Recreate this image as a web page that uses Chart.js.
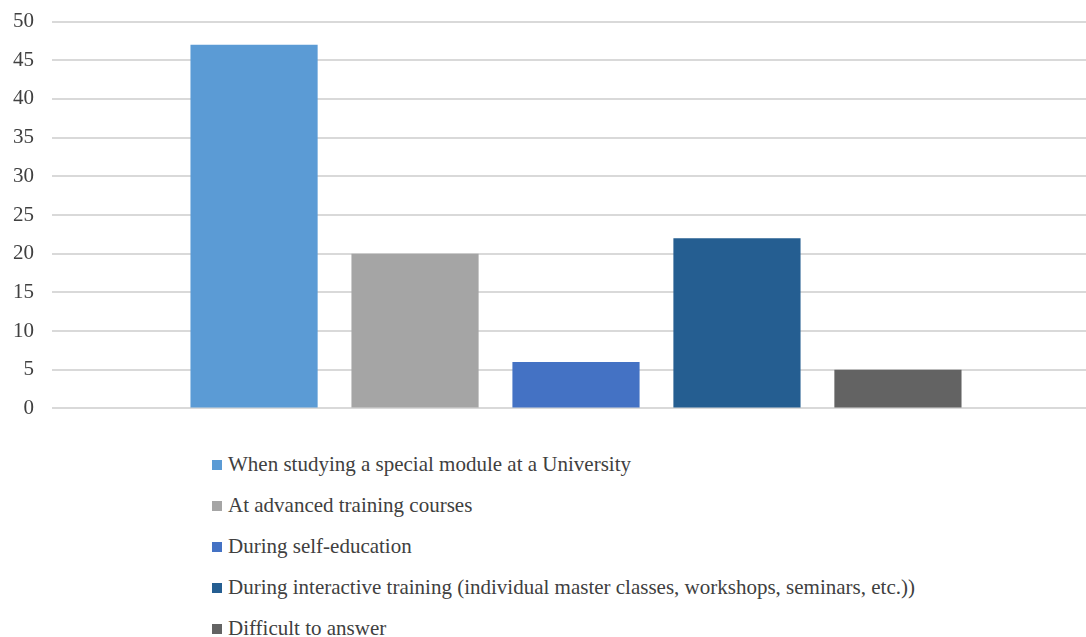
<!DOCTYPE html>
<html>
<head>
<meta charset="utf-8">
<script src="https://cdn.jsdelivr.net/npm/chart.js@4"></script>
<style>
    html, body { margin: 0; padding: 0; background: #fff; overflow: hidden; }
    #wrap { position: absolute; left: 0; top: -9px; width: 1100px; height: 448px; }
    #legend { margin: 0; padding: 0; list-style: none; position: absolute; left: 212px; top: 450px;
        font-family: 'Liberation Serif', serif; font-size: 21px; color: #404040; }
    #legend li { height: 41px; line-height: 28px; white-space: nowrap; }
    #legend span.box { display: inline-block; width: 10px; height: 10px; margin-right: 6px; vertical-align: 1px; }
</style>
</head>
<body>
<div id="wrap"><canvas id="chart" width="1100" height="448"></canvas></div>
<ul id="legend"></ul>
<script>
document.addEventListener('DOMContentLoaded', function() {
    const categories = [''];
    const seriesNames = [
        'When studying a special module at a University',
        'At advanced training courses',
        'During self-education',
        'During interactive training (individual master classes, workshops, seminars, etc.))',
        'Difficult to answer'
    ];
    const seriesValues = [47, 20, 6, 22, 5];
    const seriesColors = ['#5b9bd5', '#a5a5a5', '#4472c4', '#255e91', '#636363'];
    const yTicks = [0, 5, 10, 15, 20, 25, 30, 35, 40, 45, 50];

    const font = { family: "'Liberation Serif', serif", size: 21 };

    const ctx = document.getElementById('chart').getContext('2d');
    const chart = new Chart(ctx, {
        type: 'bar',
        data: {
            labels: categories,
            datasets: seriesNames.map((name, i) => ({
                label: name,
                data: [seriesValues[i]],
                backgroundColor: seriesColors[i],
                barPercentage: 0.79,
                categoryPercentage: 0.768
            }))
        },
        options: {
            responsive: false,
            animation: false,
            layout: { padding: { top: 6, bottom: 12, left: 0, right: 0 } },
            plugins: { legend: { display: false }, tooltip: { enabled: false } },
            scales: {
                x: { display: false },
                y: {
                    min: 0,
                    max: yTicks[yTicks.length - 1],
                    afterBuildTicks: scale => { scale.ticks = yTicks.map(v => ({ value: v })); },
                    afterFit: scale => { scale.width = 52; },
                    grid: { color: '#d9d9d9', lineWidth: 2, drawTicks: false },
                    border: { display: false },
                    ticks: { font: font, color: '#404040', padding: 18 }
                }
            }
        }
    });

    const legend = document.getElementById('legend');
    chart.data.datasets.forEach(ds => {
        const li = document.createElement('li');
        const box = document.createElement('span');
        box.className = 'box';
        box.style.background = ds.backgroundColor;
        li.appendChild(box);
        li.appendChild(document.createTextNode(ds.label));
        legend.appendChild(li);
    });
});
</script>
</body>
</html>
